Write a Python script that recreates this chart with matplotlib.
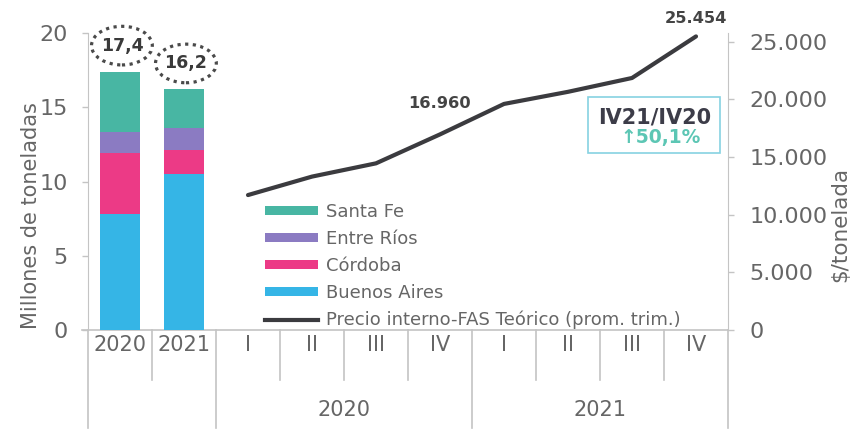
import numpy as np
import matplotlib
matplotlib.use('Agg')
from matplotlib import pyplot as plt
from matplotlib.patches import Ellipse, Rectangle
from matplotlib.lines import Line2D
import matplotlib.transforms as mtransforms

plt.rcParams['font.family'] = ['DejaVu Sans']

# datos
years = ['2020', '2021']
buenos_aires = [7.8, 10.5]
cordoba = [4.1, 1.6]
entre_rios = [1.4, 1.5]
santa_fe = [4.1, 2.6]

quarters = ['I', 'II', 'III', 'IV', 'I', 'II', 'III', 'IV']
quarter_years = ['2020', '2021']
precio = [11700, 13300, 14450, 16960, 19600, 20650, 21850, 25454]
var_label = 'IV21/IV20'
var_value = '↑50,1%'

c_sf = '#48b6a3'
c_er = '#8b7bc2'
c_co = '#ec3a86'
c_ba = '#35b5e6'
c_line = '#3b3b3f'
gray = '#666666'
light = '#c4c4c4'

fig = plt.figure(figsize=(8.52, 4.33), dpi=100)
ax = fig.add_axes([88/852, 1-330/433, 640/852, 297/433])
ax2 = ax.twinx()

# barras apiladas
xb = np.arange(len(years))
w = 0.64
bottom = np.zeros(len(years))
for vals, col, lab in [(buenos_aires, c_ba, 'Buenos Aires'), (cordoba, c_co, 'Córdoba'),
                       (entre_rios, c_er, 'Entre Ríos'), (santa_fe, c_sf, 'Santa Fe')]:
    ax.bar(xb, vals, w, bottom=bottom, color=col, label=lab, zorder=2)
    bottom = bottom + np.array(vals)

for i, tot in enumerate(bottom):
    txt = ('%.1f' % tot).replace('.', ',')
    ax.text(xb[i] + 0.03, tot + 1.75, txt, ha='center', va='center', fontsize=12.5,
            fontweight='bold', color='#3a3a3a')
    ax.add_patch(Ellipse((xb[i] + 0.03, tot + 1.75), 0.95, 2.6, fill=False,
                         ls=(0, (1, 1.4)), lw=2.3, ec='#4a4a4a', clip_on=False))

ax.set_xlim(-0.5, 9.5)
ax.set_ylim(0, 20)
ax.set_yticks([0, 5, 10, 15, 20])
ax.set_xticks([])
for s in ['top', 'right', 'bottom']:
    ax.spines[s].set_visible(False)
ax.spines['left'].set_color(light)
ax.tick_params(axis='y', colors=light, labelcolor=gray, labelsize=16, length=4.5, width=1, pad=10)
ax.set_ylabel('Millones de toneladas', fontsize=15, color=gray)
ax.yaxis.set_label_coords(-0.074, 0.384)

# linea de precio
xl = np.arange(2, 2 + len(precio))
ax2.plot(xl, precio, color=c_line, lw=3, solid_capstyle='round', solid_joinstyle='round',
         label='Precio interno-FAS Teórico (prom. trim.)', zorder=3)
ax2.set_ylim(0, 25750)
ax2.set_yticks([0, 5000, 10000, 15000, 20000, 25000])
ax2.set_yticklabels([f'{v:,}'.replace(',', '.') for v in [0, 5000, 10000, 15000, 20000, 25000]])
for s in ['top', 'left', 'bottom']:
    ax2.spines[s].set_visible(False)
ax2.spines['right'].set_color(light)
ax2.tick_params(axis='y', colors=light, labelcolor=gray, labelsize=16, length=4.5, width=1, pad=11)
ax2.set_ylabel('$/tonelada', fontsize=15.5, color=gray)
ax2.yaxis.set_label_coords(1.159, 0.354)

ax2.annotate('16.960', (xl[3], precio[3]), xytext=(0, 22), textcoords='offset points',
             ha='center', va='center', fontsize=11.7, fontweight='bold', color='#444444')
ax2.annotate('25.454', (xl[-1], precio[-1]), xytext=(0, 13), textcoords='offset points',
             ha='center', va='center', fontsize=11.7, fontweight='bold', color='#444444')

# recuadro variacion
ax2.add_patch(Rectangle((0.781, 0.596), 0.206, 0.1886, transform=ax2.transAxes,
                        fill=False, ec='#86d2e2', lw=1.2))
ax2.text(0.8855, 0.717, var_label, transform=ax2.transAxes, ha='center', va='center',
         fontsize=15, fontweight='bold', color='#3c3c48')
ax2.text(0.894, 0.648, var_value, transform=ax2.transAxes, ha='center', va='center',
         fontsize=13.5, fontweight='bold', color='#5cc6b4')

# eje x de categorias
trans = mtransforms.blended_transform_factory(ax.transData, ax.transAxes)
labels_row1 = years + quarters
for i, lab in enumerate(labels_row1):
    ax.text(i, -0.052, lab, transform=trans, ha='center', va='center', fontsize=15, color=gray)
ax.text(3.5, -0.27, quarter_years[0], transform=trans, ha='center', va='center', fontsize=15, color=gray)
ax.text(7.5, -0.27, quarter_years[1], transform=trans, ha='center', va='center', fontsize=15, color=gray)

ax.plot([-0.6, 9.5], [0, 0], transform=trans, color=light, lw=1.2, clip_on=False, zorder=1)
for b in np.arange(-0.5, 10, 1.0):
    y_end = -0.33 if b in (-0.5, 1.5, 5.5, 9.5) else -0.168
    ax.plot([b, b], [0, y_end], transform=trans, color=light, lw=1.2, clip_on=False)

# leyenda
h, l = ax.get_legend_handles_labels()
h = h[::-1]
l = l[::-1]
h.append(Line2D([], [], color=c_line, lw=3))
l.append('Precio interno-FAS Teórico (prom. trim.)')
ax2.legend(h, l, loc='upper left', bbox_to_anchor=(0.277, 0.428), frameon=False,
           fontsize=13, handlelength=2.9, handleheight=0.45, handletextpad=0.45,
           labelspacing=0.5, borderpad=0, borderaxespad=0, labelcolor=gray)

fig.savefig('out.png', dpi=100)
